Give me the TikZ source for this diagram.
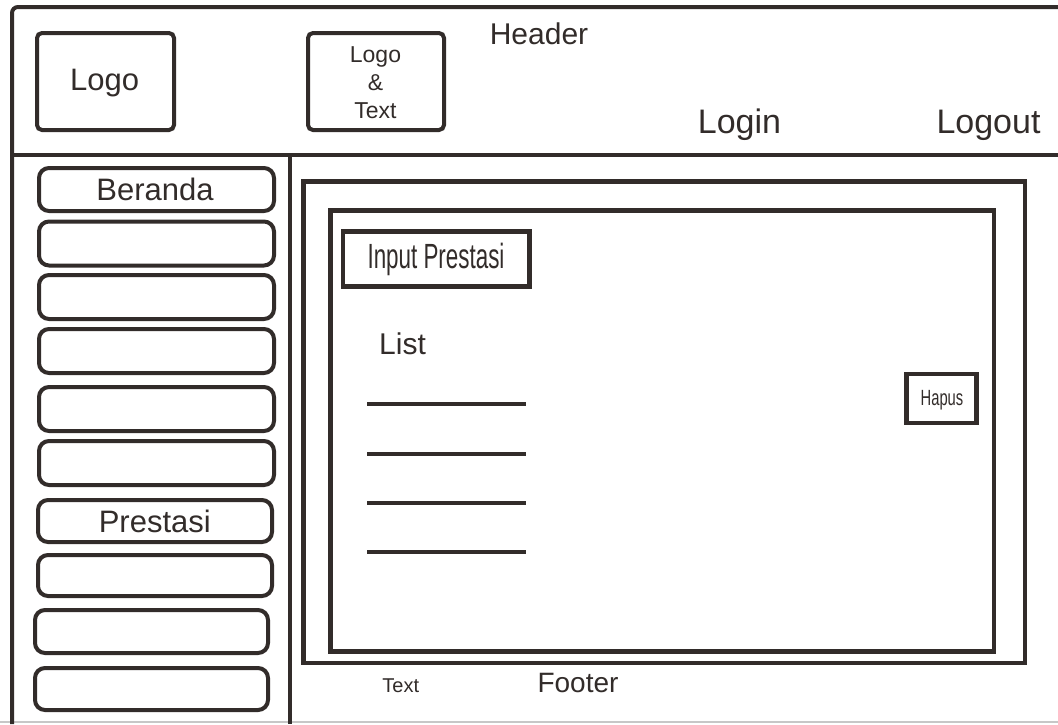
\documentclass[tikz,border=0pt]{standalone}
\usepackage{fontspec}
\setmainfont{Liberation Sans}
\newfontfamily\narrowA[FakeStretch=0.64]{Liberation Sans}
\newfontfamily\narrowB[FakeStretch=0.67]{Liberation Sans}
\definecolor{ink}{RGB}{50,44,42}
\begin{document}
\begin{tikzpicture}[x=1pt,y=-1pt,
  frame/.style={line width=4pt, color=ink},
  sidebtn/.style={draw=ink, line width=4pt, rounded corners=10pt, minimum width=235pt, minimum height=44pt, inner sep=0pt},
  logobox/.style={draw=ink, line width=4pt, rounded corners=5pt, minimum width=137pt, minimum height=97pt, inner sep=0pt},
  sqbox/.style={draw=ink, line width=4.5pt, inner sep=0pt},
  txt/.style={anchor=base, inner sep=0pt, text=ink},
  listline/.style={line width=4.5pt, color=ink}
]
\useasboundingbox (0,0) rectangle (1058,724);
\fill[white] (0,0) rectangle (1058,724);

% outer frame
\coordinate (fbl) at (12,724);
\coordinate (ftl) at (12,7);
\coordinate (ftr) at (1058,7);
\coordinate (hl) at (12,155);
\coordinate (hr) at (1058,155);
\coordinate (st) at (290,155);
\coordinate (sb) at (290,724);
\coordinate (gl) at (0,722);
\coordinate (gr) at (1058,722);
\draw[line width=1.2pt, color=black!22] (gl) -- (gr);
\draw[frame, rounded corners=6pt] (fbl) -- (ftl) -- (ftr);
\draw[frame] (hl) -- (hr);
\draw[frame] (st) -- (sb);

% header
\node[logobox] (logo) at (105.5,81.5) {};
\node[logobox, minimum width=136pt] (logotext) at (376,81.5) {};
\node[txt, font=\fontsize{31}{36}\selectfont] (tlogo) at (104.7,90) {Logo};
\node[txt, font=\fontsize{23}{28}\selectfont] (lt1) at (375.5,62.7) {Logo};
\node[txt, font=\fontsize{23}{28}\selectfont] (lt2) at (375.5,90.7) {\&};
\node[txt, font=\fontsize{23}{28}\selectfont] (lt3) at (375.5,118.3) {Text};
\node[txt, font=\fontsize{30}{36}\selectfont] (header) at (539,44) {Header};
\node[txt, font=\fontsize{34}{40}\selectfont] (login) at (739.5,133) {Login};
\node[txt, font=\fontsize{34}{40}\selectfont] (logout) at (988.5,133) {Logout};

% sidebar
\node[sidebtn, minimum height=43pt] (b1) at (156.5,189.5) {};
\node[sidebtn] (b2) at (156.5,243.5) {};
\node[sidebtn] (b3) at (156.5,297) {};
\node[sidebtn] (b4) at (156.5,351) {};
\node[sidebtn] (b5) at (156.5,409) {};
\node[sidebtn] (b6) at (156.5,463) {};
\node[sidebtn, minimum width=234pt, minimum height=42pt] (b7) at (155,521) {};
\node[sidebtn, minimum width=234pt, minimum height=41pt] (b8) at (155,575.5) {};
\node[sidebtn, minimum width=233pt, minimum height=43pt] (b9) at (151.5,631.5) {};
\node[sidebtn, minimum width=233pt, minimum height=42pt] (b10) at (151.5,689) {};
\node[txt, font=\fontsize{31}{36}\selectfont] (tberanda) at (155,200.7) {Beranda};
\node[txt, font=\fontsize{31}{36}\selectfont] (tprestasi) at (154.8,532.7) {Prestasi};

% content
\node[sqbox, line width=4.5pt, minimum width=721.5pt, minimum height=481.5pt] (outerc) at (664.25,422.25) {};
\node[sqbox, line width=4.5pt, minimum width=663.5pt, minimum height=441pt] (innerc) at (662.25,431) {};
\node[sqbox, minimum width=186.5pt, minimum height=55pt] (inputbox) at (436.25,259) {};
\node[txt, font=\fontsize{35}{40}\narrowA] (tinput) at (436,268) {Input Prestasi};
\node[sqbox, minimum width=70pt, minimum height=49pt] (hapusbox) at (941.5,398.5) {};
\node[txt, font=\fontsize{22}{26}\narrowB] (thapus) at (942,405) {Hapus};
\node[txt, anchor=base west, font=\fontsize{30}{36}\selectfont] (tlist) at (379,354) {List};

\coordinate (l1a) at (367,404); \coordinate (l1b) at (526,404);
\coordinate (l2a) at (367,454); \coordinate (l2b) at (526,454);
\coordinate (l3a) at (367,503); \coordinate (l3b) at (526,503);
\coordinate (l4a) at (367,552); \coordinate (l4b) at (526,552);
\draw[listline] (l1a) -- (l1b);
\draw[listline] (l2a) -- (l2b);
\draw[listline] (l3a) -- (l3b);
\draw[listline] (l4a) -- (l4b);

% footer
\node[txt, font=\fontsize{20}{24}\selectfont] (tfootext) at (400.8,692) {Text};
\node[txt, font=\fontsize{28}{32}\selectfont] (tfooter) at (578,692) {Footer};
\end{tikzpicture}
\end{document}
